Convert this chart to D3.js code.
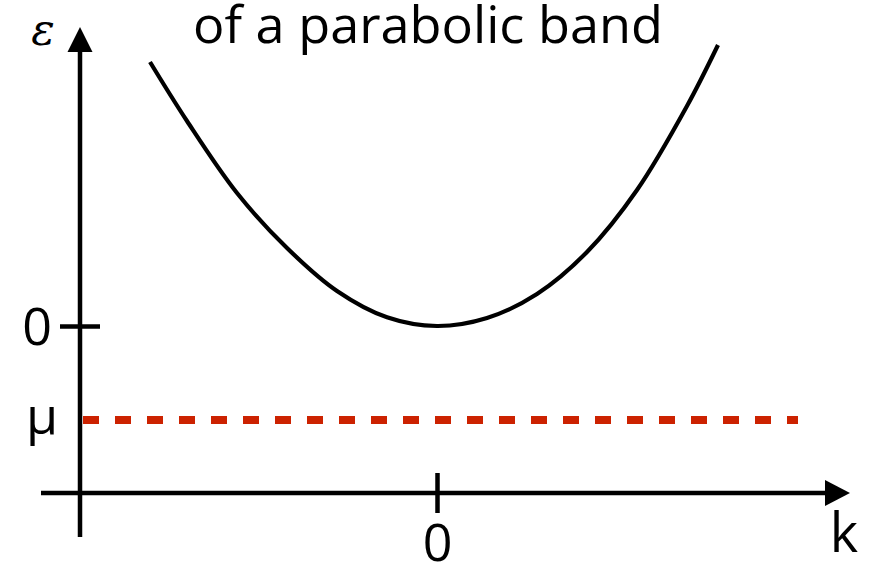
<!DOCTYPE html>
<html>
<head>
<meta charset="utf-8">
<script src="https://cdn.jsdelivr.net/npm/d3@7"></script>
<style>
  html, body { margin: 0; padding: 0; background: #fff; }
  svg { display: block; }
</style>
</head>
<body>
<svg id="chart" width="872" height="564"></svg>
<script>
// Band dispersion ε(k) sampled along the curve
const bandK   = [-2.87, -2.5, -2.0, -1.5, -1.0, -0.5, 0, 0.5, 1.0, 1.5, 2.0, 2.5, 2.81];
const bandEps = [ 2.64,  2.05, 1.33, 0.78, 0.35, 0.087, 0, 0.08, 0.32, 0.74, 1.36, 2.2, 2.81];

// Chemical potential level and its horizontal extent
const muLevel = -0.94;
const muKRange = [-3.54, 3.61];

// Tick values and labels
const xTicks = [0];
const yTicks = [0];
const muLabel = "μ";
const xLabel = "k";
const yLabel = "ε";
const title = "of a parabolic band";

// Where the axes sit and how far they run (data units)
const axisK = -3.57;           // vertical axis position
const axisEps = -1.67;         // horizontal axis position
const xAxisExtent = [-3.96, 4.13];
const yAxisExtent = [-2.11, 2.99];

const svg = d3.select("#chart");
const W = 872, H = 564;

const x = d3.scaleLinear().domain([-4.37, 4.35]).range([0, W]);
const y = d3.scaleLinear().domain([3.26, -2.38]).range([0, H]);

const FONT = "'Open Sans', 'Noto Sans', sans-serif";
const AXW = 4.5;

// Axis lines
svg.append("line")
  .attr("x1", x(axisK)).attr("x2", x(axisK))
  .attr("y1", y(yAxisExtent[0])).attr("y2", y(yAxisExtent[1]) + 20)
  .attr("stroke", "#000").attr("stroke-width", AXW);
svg.append("line")
  .attr("x1", x(xAxisExtent[0])).attr("x2", x(xAxisExtent[1]) - 20)
  .attr("y1", y(axisEps)).attr("y2", y(axisEps))
  .attr("stroke", "#000").attr("stroke-width", AXW);

// Arrowheads
const ax = x(axisK), ayTop = y(yAxisExtent[1]);
svg.append("path")
  .attr("d", `M${ax},${ayTop} L${ax - 12.5},${ayTop + 25} L${ax + 12.5},${ayTop + 25} Z`)
  .attr("fill", "#000");
const bx = x(xAxisExtent[1]), by = y(axisEps);
svg.append("path")
  .attr("d", `M${bx},${by} L${bx - 25},${by - 13} L${bx - 25},${by + 13} Z`)
  .attr("fill", "#000");

// Tick marks that straddle the axes
const tickLen = 40;
const yAxisG = svg.append("g")
  .attr("transform", `translate(${ax + tickLen / 2},0)`)
  .call(d3.axisLeft(y).tickValues(yTicks).tickSize(tickLen).tickPadding(8)
    .tickFormat(d3.format("d")));
yAxisG.select(".domain").remove();
yAxisG.selectAll(".tick line").attr("stroke", "#000").attr("stroke-width", AXW);
yAxisG.selectAll(".tick text")
  .attr("font-family", FONT).attr("font-size", 52).attr("fill", "#000")
  .attr("dy", "0.36em");

const xAxisG = svg.append("g")
  .attr("transform", `translate(0,${by - tickLen / 2})`)
  .call(d3.axisBottom(x).tickValues(xTicks).tickSize(tickLen).tickPadding(11)
    .tickFormat(d3.format("d")));
xAxisG.select(".domain").remove();
xAxisG.selectAll(".tick line").attr("stroke", "#000").attr("stroke-width", AXW);
xAxisG.selectAll(".tick text")
  .attr("font-family", FONT).attr("font-size", 52).attr("fill", "#000");

// Chemical potential (dashed red)
svg.append("line")
  .attr("x1", x(muKRange[0])).attr("x2", x(muKRange[1]))
  .attr("y1", y(muLevel)).attr("y2", y(muLevel))
  .attr("stroke", "#cc2200").attr("stroke-width", 8)
  .attr("stroke-dasharray", "16,16");

// Band curve
const band = bandK.map((k, i) => [k, bandEps[i]]);
svg.append("path")
  .datum(band)
  .attr("fill", "none")
  .attr("stroke", "#000")
  .attr("stroke-width", 4.2)
  .attr("stroke-linecap", "butt")
  .attr("d", d3.line().x(d => x(d[0])).y(d => y(d[1])).curve(d3.curveCatmullRom.alpha(0.5)));

// Labels
svg.append("text")
  .attr("x", 42).attr("y", y(muLevel) + 14)
  .attr("text-anchor", "middle")
  .attr("font-family", FONT).attr("font-size", 52)
  .text(muLabel);

svg.append("text")
  .attr("x", 844).attr("y", 552)
  .attr("text-anchor", "middle")
  .attr("font-family", FONT).attr("font-size", 54)
  .text(xLabel);

svg.append("text")
  .attr("x", 43).attr("y", 45)
  .attr("text-anchor", "middle")
  .attr("font-family", "'DejaVu Serif', serif").attr("font-style", "italic")
  .attr("font-size", 44)
  .text(yLabel);

svg.append("text")
  .attr("x", 193).attr("y", 43)
  .attr("font-family", FONT).attr("font-size", 52)
  .attr("textLength", 470).attr("lengthAdjust", "spacingAndGlyphs")
  .text(title);
</script>
</body>
</html>
